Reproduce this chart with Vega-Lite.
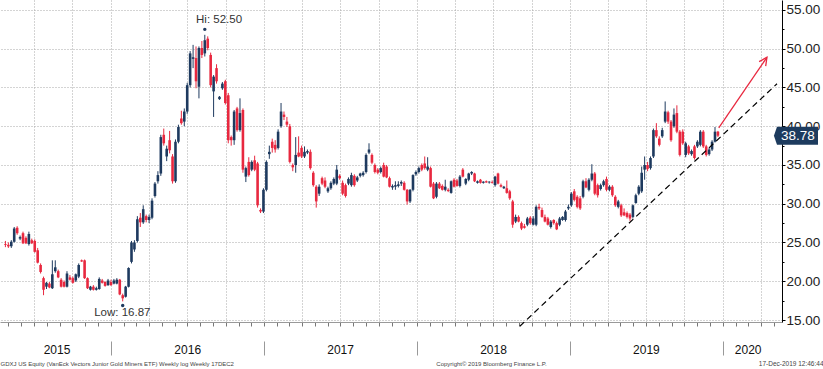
{
  "$schema": "https://vega.github.io/schema/vega-lite/v6.json",
  "autosize": {"type": "none"},
  "width": 782,
  "height": 322,
  "padding": {"left": 0, "top": 0, "right": 41, "bottom": 47},
  "background": "white",
  "config": {
    "view": {"stroke": null},
    "font": "Liberation Sans",
    "axis": {"labelFont": "Liberation Sans", "titleFont": "Liberation Sans"}
  },
  "datasets": {
    "candles": [
      {"date":"2015-04-24","open":24.8,"high":25.2,"low":24.4,"close":24.7,"dir":"dn"},
      {"date":"2015-05-01","open":24.7,"high":25.0,"low":24.3,"close":24.5,"dir":"dn"},
      {"date":"2015-05-08","open":24.5,"high":25.3,"low":24.3,"close":25.1,"dir":"up"},
      {"date":"2015-05-15","open":25.1,"high":27.0,"low":25.0,"close":26.8,"dir":"up"},
      {"date":"2015-05-22","open":26.9,"high":27.1,"low":26.0,"close":26.2,"dir":"dn"},
      {"date":"2015-05-29","open":25.5,"high":25.9,"low":25.3,"close":25.7,"dir":"up"},
      {"date":"2015-06-05","open":26.2,"high":26.4,"low":24.8,"close":24.9,"dir":"dn"},
      {"date":"2015-06-12","open":25.6,"high":25.8,"low":24.8,"close":24.9,"dir":"dn"},
      {"date":"2015-06-19","open":24.8,"high":26.4,"low":24.6,"close":26.1,"dir":"up"},
      {"date":"2015-06-26","open":25.3,"high":25.5,"low":24.8,"close":24.9,"dir":"dn"},
      {"date":"2015-07-03","open":25.2,"high":25.4,"low":23.7,"close":23.8,"dir":"dn"},
      {"date":"2015-07-10","open":24.0,"high":24.3,"low":22.3,"close":22.4,"dir":"dn"},
      {"date":"2015-07-17","open":22.1,"high":22.3,"low":21.0,"close":21.2,"dir":"dn"},
      {"date":"2015-07-24","open":20.4,"high":20.6,"low":18.2,"close":18.9,"dir":"dn"},
      {"date":"2015-07-31","open":19.3,"high":19.9,"low":19.0,"close":19.8,"dir":"up"},
      {"date":"2015-08-07","open":19.7,"high":19.9,"low":19.1,"close":19.2,"dir":"dn"},
      {"date":"2015-08-14","open":19.1,"high":22.7,"low":19.0,"close":20.9,"dir":"up"},
      {"date":"2015-08-21","open":21.3,"high":22.7,"low":21.1,"close":21.8,"dir":"up"},
      {"date":"2015-08-28","open":21.3,"high":21.5,"low":20.4,"close":20.5,"dir":"dn"},
      {"date":"2015-09-04","open":20.2,"high":20.4,"low":19.2,"close":19.3,"dir":"dn"},
      {"date":"2015-09-11","open":19.9,"high":20.1,"low":19.2,"close":19.3,"dir":"dn"},
      {"date":"2015-09-18","open":19.3,"high":21.3,"low":19.2,"close":21.0,"dir":"up"},
      {"date":"2015-09-25","open":20.5,"high":20.8,"low":20.1,"close":20.2,"dir":"dn"},
      {"date":"2015-10-02","open":20.4,"high":20.6,"low":19.7,"close":19.8,"dir":"dn"},
      {"date":"2015-10-09","open":20.1,"high":21.0,"low":19.9,"close":20.9,"dir":"up"},
      {"date":"2015-10-16","open":20.6,"high":22.3,"low":20.4,"close":22.1,"dir":"up"},
      {"date":"2015-10-23","open":22.7,"high":22.8,"low":22.5,"close":22.55,"dir":"dn"},
      {"date":"2015-10-30","open":22.7,"high":22.8,"low":20.3,"close":20.4,"dir":"dn"},
      {"date":"2015-11-06","open":20.4,"high":20.5,"low":19.0,"close":19.1,"dir":"dn"},
      {"date":"2015-11-13","open":18.9,"high":19.4,"low":18.8,"close":19.3,"dir":"up"},
      {"date":"2015-11-20","open":19.3,"high":19.5,"low":18.8,"close":18.9,"dir":"dn"},
      {"date":"2015-11-27","open":18.9,"high":19.3,"low":18.8,"close":19.1,"dir":"up"},
      {"date":"2015-12-04","open":19.0,"high":20.5,"low":18.9,"close":20.3,"dir":"up"},
      {"date":"2015-12-11","open":20.1,"high":20.3,"low":19.7,"close":19.8,"dir":"dn"},
      {"date":"2015-12-18","open":19.9,"high":20.0,"low":19.3,"close":19.4,"dir":"dn"},
      {"date":"2015-12-25","open":19.5,"high":20.3,"low":19.4,"close":20.1,"dir":"up"},
      {"date":"2016-01-01","open":19.9,"high":20.2,"low":19.4,"close":19.5,"dir":"dn"},
      {"date":"2016-01-08","open":19.7,"high":20.3,"low":19.6,"close":20.1,"dir":"up"},
      {"date":"2016-01-15","open":19.7,"high":20.4,"low":19.6,"close":20.2,"dir":"up"},
      {"date":"2016-01-22","open":20.2,"high":20.3,"low":18.2,"close":18.3,"dir":"dn"},
      {"date":"2016-01-29","open":18.2,"high":18.4,"low":17.4,"close":17.8,"dir":"dn"},
      {"date":"2016-02-05","open":18.0,"high":19.4,"low":17.9,"close":19.3,"dir":"up"},
      {"date":"2016-02-12","open":19.3,"high":21.8,"low":19.2,"close":21.7,"dir":"up"},
      {"date":"2016-02-19","open":22.5,"high":25.2,"low":22.3,"close":25.0,"dir":"up"},
      {"date":"2016-02-26","open":24.1,"high":25.3,"low":23.8,"close":25.0,"dir":"up"},
      {"date":"2016-03-04","open":25.2,"high":28.4,"low":25.0,"close":28.0,"dir":"up"},
      {"date":"2016-03-11","open":28.2,"high":28.8,"low":27.0,"close":27.6,"dir":"dn"},
      {"date":"2016-03-18","open":27.6,"high":29.8,"low":27.4,"close":29.3,"dir":"up"},
      {"date":"2016-03-25","open":28.4,"high":28.6,"low":27.6,"close":27.9,"dir":"dn"},
      {"date":"2016-04-01","open":27.9,"high":28.6,"low":27.5,"close":28.3,"dir":"up"},
      {"date":"2016-04-08","open":28.2,"high":30.7,"low":28.0,"close":30.4,"dir":"up"},
      {"date":"2016-04-15","open":31.0,"high":32.8,"low":30.8,"close":32.6,"dir":"up"},
      {"date":"2016-04-22","open":32.9,"high":34.2,"low":32.6,"close":33.7,"dir":"up"},
      {"date":"2016-04-29","open":33.9,"high":38.9,"low":33.6,"close":38.6,"dir":"up"},
      {"date":"2016-05-06","open":38.9,"high":39.7,"low":37.5,"close":37.8,"dir":"dn"},
      {"date":"2016-05-13","open":36.1,"high":37.5,"low":35.5,"close":37.1,"dir":"up"},
      {"date":"2016-05-20","open":38.2,"high":39.4,"low":36.5,"close":36.9,"dir":"dn"},
      {"date":"2016-05-27","open":36.1,"high":36.4,"low":32.6,"close":32.9,"dir":"dn"},
      {"date":"2016-06-03","open":32.9,"high":38.3,"low":32.7,"close":38.0,"dir":"up"},
      {"date":"2016-06-10","open":38.0,"high":40.2,"low":37.8,"close":39.9,"dir":"up"},
      {"date":"2016-06-17","open":41.0,"high":42.0,"low":40.2,"close":40.4,"dir":"dn"},
      {"date":"2016-06-24","open":40.6,"high":42.3,"low":40.0,"close":41.9,"dir":"up"},
      {"date":"2016-07-01","open":41.9,"high":45.6,"low":41.6,"close":45.3,"dir":"up"},
      {"date":"2016-07-08","open":45.3,"high":49.7,"low":45.0,"close":49.4,"dir":"up"},
      {"date":"2016-07-15","open":48.7,"high":50.5,"low":47.5,"close":48.9,"dir":"up"},
      {"date":"2016-07-22","open":48.8,"high":50.3,"low":44.9,"close":45.8,"dir":"dn"},
      {"date":"2016-07-29","open":45.1,"high":50.3,"low":43.6,"close":50.1,"dir":"up"},
      {"date":"2016-08-05","open":50.1,"high":51.0,"low":48.8,"close":49.2,"dir":"dn"},
      {"date":"2016-08-12","open":49.4,"high":51.8,"low":49.0,"close":51.1,"dir":"up"},
      {"date":"2016-08-19","open":51.3,"high":51.6,"low":49.8,"close":50.1,"dir":"dn"},
      {"date":"2016-08-26","open":49.2,"high":49.5,"low":45.0,"close":45.3,"dir":"dn"},
      {"date":"2016-09-02","open":44.5,"high":46.6,"low":41.2,"close":46.4,"dir":"up"},
      {"date":"2016-09-09","open":47.5,"high":48.0,"low":45.5,"close":45.8,"dir":"dn"},
      {"date":"2016-09-16","open":43.5,"high":43.9,"low":43.4,"close":43.8,"dir":"up"},
      {"date":"2016-09-23","open":44.9,"high":45.7,"low":44.7,"close":45.5,"dir":"up"},
      {"date":"2016-09-30","open":45.8,"high":46.0,"low":42.8,"close":43.0,"dir":"dn"},
      {"date":"2016-10-07","open":44.0,"high":44.3,"low":37.8,"close":38.2,"dir":"dn"},
      {"date":"2016-10-14","open":38.6,"high":38.8,"low":37.5,"close":38.2,"dir":"dn"},
      {"date":"2016-10-21","open":38.2,"high":42.1,"low":37.6,"close":41.9,"dir":"up"},
      {"date":"2016-10-28","open":42.3,"high":42.5,"low":39.3,"close":39.5,"dir":"dn"},
      {"date":"2016-11-04","open":39.5,"high":43.6,"low":39.3,"close":41.7,"dir":"up"},
      {"date":"2016-11-11","open":42.1,"high":42.3,"low":34.0,"close":34.4,"dir":"dn"},
      {"date":"2016-11-18","open":33.5,"high":34.8,"low":32.8,"close":34.6,"dir":"up"},
      {"date":"2016-11-25","open":35.4,"high":36.0,"low":33.5,"close":33.7,"dir":"dn"},
      {"date":"2016-12-02","open":34.4,"high":35.6,"low":34.2,"close":35.4,"dir":"up"},
      {"date":"2016-12-09","open":35.6,"high":36.2,"low":34.2,"close":34.4,"dir":"dn"},
      {"date":"2016-12-16","open":35.2,"high":35.4,"low":29.5,"close":29.8,"dir":"dn"},
      {"date":"2016-12-23","open":29.2,"high":29.4,"low":28.8,"close":29.0,"dir":"dn"},
      {"date":"2016-12-30","open":29.0,"high":32.0,"low":28.8,"close":31.8,"dir":"up"},
      {"date":"2017-01-06","open":31.8,"high":35.6,"low":31.6,"close":35.4,"dir":"up"},
      {"date":"2017-01-13","open":36.4,"high":37.5,"low":35.8,"close":36.7,"dir":"up"},
      {"date":"2017-01-20","open":38.0,"high":38.4,"low":36.6,"close":37.2,"dir":"dn"},
      {"date":"2017-01-27","open":37.6,"high":38.2,"low":36.6,"close":37.0,"dir":"dn"},
      {"date":"2017-02-03","open":37.2,"high":39.6,"low":37.0,"close":39.3,"dir":"up"},
      {"date":"2017-02-10","open":40.0,"high":43.0,"low":39.8,"close":41.9,"dir":"up"},
      {"date":"2017-02-17","open":41.5,"high":41.9,"low":40.8,"close":41.2,"dir":"dn"},
      {"date":"2017-02-24","open":40.6,"high":41.2,"low":39.9,"close":40.2,"dir":"dn"},
      {"date":"2017-03-03","open":40.0,"high":40.3,"low":35.2,"close":35.4,"dir":"dn"},
      {"date":"2017-03-10","open":35.0,"high":35.2,"low":34.2,"close":34.7,"dir":"dn"},
      {"date":"2017-03-17","open":35.0,"high":38.6,"low":34.0,"close":36.3,"dir":"up"},
      {"date":"2017-03-24","open":36.6,"high":38.7,"low":36.0,"close":36.1,"dir":"dn"},
      {"date":"2017-03-31","open":37.2,"high":37.5,"low":35.9,"close":36.1,"dir":"dn"},
      {"date":"2017-04-07","open":36.1,"high":37.4,"low":35.9,"close":36.7,"dir":"up"},
      {"date":"2017-04-14","open":36.6,"high":37.0,"low":36.4,"close":36.8,"dir":"up"},
      {"date":"2017-04-21","open":36.7,"high":37.0,"low":34.4,"close":34.6,"dir":"dn"},
      {"date":"2017-04-28","open":34.0,"high":34.2,"low":32.2,"close":32.4,"dir":"dn"},
      {"date":"2017-05-05","open":32.2,"high":32.4,"low":29.5,"close":30.3,"dir":"dn"},
      {"date":"2017-05-12","open":31.3,"high":32.5,"low":31.0,"close":32.2,"dir":"up"},
      {"date":"2017-05-19","open":33.3,"high":33.5,"low":32.4,"close":32.6,"dir":"dn"},
      {"date":"2017-05-26","open":33.0,"high":33.4,"low":32.0,"close":32.2,"dir":"dn"},
      {"date":"2017-06-02","open":31.6,"high":32.2,"low":31.4,"close":32.0,"dir":"up"},
      {"date":"2017-06-09","open":32.0,"high":32.9,"low":31.8,"close":32.7,"dir":"up"},
      {"date":"2017-06-16","open":32.6,"high":33.4,"low":32.4,"close":33.2,"dir":"up"},
      {"date":"2017-06-23","open":32.6,"high":35.0,"low":32.4,"close":34.4,"dir":"up"},
      {"date":"2017-06-30","open":33.6,"high":33.8,"low":33.1,"close":33.3,"dir":"dn"},
      {"date":"2017-07-07","open":32.7,"high":33.0,"low":31.1,"close":31.3,"dir":"dn"},
      {"date":"2017-07-14","open":32.4,"high":32.6,"low":30.8,"close":31.0,"dir":"dn"},
      {"date":"2017-07-21","open":32.6,"high":33.4,"low":32.4,"close":33.2,"dir":"up"},
      {"date":"2017-07-28","open":32.4,"high":34.0,"low":32.2,"close":33.7,"dir":"up"},
      {"date":"2017-08-04","open":33.6,"high":33.8,"low":32.2,"close":32.4,"dir":"dn"},
      {"date":"2017-08-11","open":33.0,"high":33.6,"low":32.8,"close":33.4,"dir":"up"},
      {"date":"2017-08-18","open":33.6,"high":34.0,"low":33.4,"close":33.9,"dir":"up"},
      {"date":"2017-08-25","open":33.7,"high":34.2,"low":33.5,"close":34.0,"dir":"up"},
      {"date":"2017-09-01","open":34.1,"high":36.5,"low":33.9,"close":36.3,"dir":"up"},
      {"date":"2017-09-08","open":36.6,"high":37.8,"low":36.4,"close":37.0,"dir":"up"},
      {"date":"2017-09-15","open":36.3,"high":36.5,"low":35.1,"close":35.3,"dir":"dn"},
      {"date":"2017-09-22","open":35.0,"high":35.2,"low":33.9,"close":34.1,"dir":"dn"},
      {"date":"2017-09-29","open":34.4,"high":34.6,"low":33.8,"close":34.0,"dir":"dn"},
      {"date":"2017-10-06","open":34.1,"high":34.8,"low":33.9,"close":34.6,"dir":"up"},
      {"date":"2017-10-13","open":35.0,"high":35.3,"low":33.4,"close":33.5,"dir":"dn"},
      {"date":"2017-10-20","open":34.8,"high":35.0,"low":33.3,"close":33.4,"dir":"dn"},
      {"date":"2017-10-27","open":33.3,"high":33.5,"low":32.1,"close":32.2,"dir":"dn"},
      {"date":"2017-11-03","open":32.1,"high":32.5,"low":31.8,"close":32.3,"dir":"up"},
      {"date":"2017-11-10","open":32.2,"high":32.9,"low":31.8,"close":32.4,"dir":"up"},
      {"date":"2017-11-17","open":32.3,"high":32.9,"low":32.1,"close":32.5,"dir":"up"},
      {"date":"2017-11-24","open":32.6,"high":33.0,"low":32.3,"close":32.8,"dir":"up"},
      {"date":"2017-12-01","open":32.7,"high":32.9,"low":31.7,"close":31.8,"dir":"dn"},
      {"date":"2017-12-08","open":31.8,"high":31.9,"low":29.9,"close":30.3,"dir":"dn"},
      {"date":"2017-12-15","open":30.3,"high":31.9,"low":30.1,"close":31.8,"dir":"up"},
      {"date":"2017-12-22","open":31.8,"high":33.8,"low":31.6,"close":33.7,"dir":"up"},
      {"date":"2017-12-29","open":33.8,"high":34.3,"low":33.6,"close":34.1,"dir":"up"},
      {"date":"2018-01-05","open":34.1,"high":34.8,"low":33.9,"close":34.6,"dir":"up"},
      {"date":"2018-01-12","open":35.0,"high":35.2,"low":34.2,"close":34.4,"dir":"dn"},
      {"date":"2018-01-19","open":35.2,"high":36.1,"low":34.4,"close":34.6,"dir":"dn"},
      {"date":"2018-01-26","open":34.4,"high":36.0,"low":34.2,"close":34.8,"dir":"up"},
      {"date":"2018-02-02","open":34.6,"high":34.8,"low":32.1,"close":32.2,"dir":"dn"},
      {"date":"2018-02-09","open":32.6,"high":32.8,"low":30.6,"close":30.7,"dir":"dn"},
      {"date":"2018-02-16","open":30.9,"high":32.8,"low":30.7,"close":32.6,"dir":"up"},
      {"date":"2018-02-23","open":32.6,"high":32.8,"low":31.9,"close":32.0,"dir":"dn"},
      {"date":"2018-03-02","open":32.3,"high":32.5,"low":31.7,"close":31.8,"dir":"dn"},
      {"date":"2018-03-09","open":31.8,"high":33.1,"low":31.6,"close":32.2,"dir":"up"},
      {"date":"2018-03-16","open":31.8,"high":32.0,"low":31.5,"close":31.65,"dir":"dn"},
      {"date":"2018-03-23","open":31.4,"high":33.0,"low":31.3,"close":32.9,"dir":"up"},
      {"date":"2018-03-30","open":33.1,"high":33.3,"low":32.1,"close":32.2,"dir":"dn"},
      {"date":"2018-04-06","open":33.0,"high":33.2,"low":32.2,"close":32.3,"dir":"dn"},
      {"date":"2018-04-13","open":32.3,"high":33.7,"low":32.1,"close":33.5,"dir":"up"},
      {"date":"2018-04-20","open":34.4,"high":34.6,"low":33.4,"close":33.5,"dir":"dn"},
      {"date":"2018-04-27","open":32.6,"high":33.3,"low":32.4,"close":33.2,"dir":"up"},
      {"date":"2018-05-04","open":33.1,"high":34.0,"low":32.9,"close":33.9,"dir":"up"},
      {"date":"2018-05-11","open":33.9,"high":34.2,"low":33.7,"close":34.1,"dir":"up"},
      {"date":"2018-05-18","open":33.9,"high":34.0,"low":32.8,"close":32.9,"dir":"dn"},
      {"date":"2018-05-25","open":32.7,"high":33.0,"low":32.6,"close":32.9,"dir":"up"},
      {"date":"2018-06-01","open":33.1,"high":33.2,"low":32.6,"close":32.7,"dir":"dn"},
      {"date":"2018-06-08","open":32.7,"high":32.9,"low":32.6,"close":32.85,"dir":"up"},
      {"date":"2018-06-15","open":32.9,"high":33.0,"low":32.7,"close":32.75,"dir":"dn"},
      {"date":"2018-06-22","open":32.75,"high":32.9,"low":32.6,"close":32.85,"dir":"up"},
      {"date":"2018-06-29","open":32.8,"high":33.0,"low":32.6,"close":32.7,"dir":"dn"},
      {"date":"2018-07-06","open":32.4,"high":33.6,"low":32.2,"close":33.5,"dir":"up"},
      {"date":"2018-07-13","open":33.9,"high":34.0,"low":32.5,"close":32.6,"dir":"dn"},
      {"date":"2018-07-20","open":32.4,"high":32.6,"low":32.1,"close":32.2,"dir":"dn"},
      {"date":"2018-07-27","open":32.0,"high":32.3,"low":31.9,"close":32.2,"dir":"up"},
      {"date":"2018-08-03","open":32.0,"high":33.0,"low":31.3,"close":31.4,"dir":"dn"},
      {"date":"2018-08-10","open":31.6,"high":31.8,"low":30.5,"close":30.7,"dir":"dn"},
      {"date":"2018-08-17","open":30.3,"high":30.5,"low":26.9,"close":27.3,"dir":"dn"},
      {"date":"2018-08-24","open":27.7,"high":28.6,"low":27.5,"close":28.3,"dir":"up"},
      {"date":"2018-08-31","open":28.3,"high":28.5,"low":27.6,"close":27.7,"dir":"dn"},
      {"date":"2018-09-07","open":27.5,"high":27.7,"low":26.6,"close":26.8,"dir":"dn"},
      {"date":"2018-09-14","open":27.1,"high":27.4,"low":26.8,"close":26.9,"dir":"dn"},
      {"date":"2018-09-21","open":27.3,"high":28.3,"low":27.1,"close":28.1,"dir":"up"},
      {"date":"2018-09-28","open":28.2,"high":28.4,"low":27.3,"close":27.5,"dir":"dn"},
      {"date":"2018-10-05","open":27.3,"high":28.4,"low":27.2,"close":28.1,"dir":"up"},
      {"date":"2018-10-12","open":27.3,"high":29.8,"low":27.1,"close":29.6,"dir":"up"},
      {"date":"2018-10-19","open":29.6,"high":30.0,"low":29.2,"close":29.4,"dir":"dn"},
      {"date":"2018-10-26","open":29.2,"high":29.5,"low":28.2,"close":28.3,"dir":"dn"},
      {"date":"2018-11-02","open":28.3,"high":28.6,"low":27.6,"close":27.7,"dir":"dn"},
      {"date":"2018-11-09","open":28.1,"high":28.3,"low":27.2,"close":27.3,"dir":"dn"},
      {"date":"2018-11-16","open":27.0,"high":27.9,"low":26.8,"close":27.7,"dir":"up"},
      {"date":"2018-11-23","open":27.9,"high":28.0,"low":27.3,"close":27.5,"dir":"dn"},
      {"date":"2018-11-30","open":27.5,"high":27.7,"low":26.6,"close":26.7,"dir":"dn"},
      {"date":"2018-12-07","open":27.3,"high":28.3,"low":27.1,"close":28.1,"dir":"up"},
      {"date":"2018-12-14","open":27.9,"high":28.4,"low":27.8,"close":28.3,"dir":"up"},
      {"date":"2018-12-21","open":27.9,"high":29.2,"low":27.7,"close":29.0,"dir":"up"},
      {"date":"2018-12-28","open":29.4,"high":29.9,"low":29.2,"close":29.6,"dir":"up"},
      {"date":"2019-01-04","open":29.8,"high":31.5,"low":29.6,"close":31.3,"dir":"up"},
      {"date":"2019-01-11","open":31.6,"high":31.9,"low":30.3,"close":30.5,"dir":"dn"},
      {"date":"2019-01-18","open":30.9,"high":31.1,"low":29.4,"close":29.6,"dir":"dn"},
      {"date":"2019-01-25","open":30.7,"high":31.0,"low":29.2,"close":29.4,"dir":"dn"},
      {"date":"2019-02-01","open":30.9,"high":33.1,"low":30.7,"close":32.9,"dir":"up"},
      {"date":"2019-02-08","open":32.9,"high":33.3,"low":32.0,"close":32.1,"dir":"dn"},
      {"date":"2019-02-15","open":31.8,"high":33.3,"low":31.6,"close":33.1,"dir":"up"},
      {"date":"2019-02-22","open":33.1,"high":35.1,"low":32.9,"close":33.9,"dir":"up"},
      {"date":"2019-03-01","open":33.9,"high":34.1,"low":31.1,"close":31.3,"dir":"dn"},
      {"date":"2019-03-08","open":32.4,"high":32.6,"low":30.8,"close":31.1,"dir":"dn"},
      {"date":"2019-03-15","open":31.9,"high":32.6,"low":31.7,"close":32.4,"dir":"up"},
      {"date":"2019-03-22","open":32.4,"high":33.1,"low":32.2,"close":32.9,"dir":"up"},
      {"date":"2019-03-29","open":33.2,"high":33.5,"low":31.6,"close":31.8,"dir":"dn"},
      {"date":"2019-04-05","open":31.8,"high":32.4,"low":31.6,"close":32.2,"dir":"up"},
      {"date":"2019-04-12","open":32.2,"high":32.4,"low":30.9,"close":31.1,"dir":"dn"},
      {"date":"2019-04-19","open":30.9,"high":31.1,"low":29.6,"close":29.8,"dir":"dn"},
      {"date":"2019-04-26","open":29.6,"high":30.5,"low":29.4,"close":30.3,"dir":"up"},
      {"date":"2019-05-03","open":29.8,"high":30.0,"low":28.3,"close":28.5,"dir":"dn"},
      {"date":"2019-05-10","open":28.9,"high":29.4,"low":28.4,"close":28.5,"dir":"dn"},
      {"date":"2019-05-17","open":28.8,"high":29.0,"low":28.1,"close":28.3,"dir":"dn"},
      {"date":"2019-05-24","open":28.6,"high":28.8,"low":27.8,"close":28.1,"dir":"dn"},
      {"date":"2019-05-31","open":28.3,"high":29.9,"low":28.1,"close":29.8,"dir":"up"},
      {"date":"2019-06-07","open":30.1,"high":31.3,"low":30.0,"close":31.1,"dir":"up"},
      {"date":"2019-06-14","open":31.3,"high":32.4,"low":31.1,"close":32.2,"dir":"up"},
      {"date":"2019-06-21","open":31.6,"high":34.8,"low":31.4,"close":34.0,"dir":"up"},
      {"date":"2019-06-28","open":34.4,"high":36.1,"low":33.1,"close":35.0,"dir":"up"},
      {"date":"2019-07-05","open":35.0,"high":35.4,"low":34.2,"close":34.5,"dir":"dn"},
      {"date":"2019-07-12","open":34.6,"high":36.1,"low":34.4,"close":35.9,"dir":"up"},
      {"date":"2019-07-19","open":36.1,"high":39.7,"low":35.9,"close":39.5,"dir":"up"},
      {"date":"2019-07-26","open":39.5,"high":40.4,"low":38.5,"close":38.7,"dir":"dn"},
      {"date":"2019-08-02","open":38.4,"high":38.7,"low":37.4,"close":37.6,"dir":"dn"},
      {"date":"2019-08-09","open":38.7,"high":39.8,"low":38.5,"close":39.5,"dir":"up"},
      {"date":"2019-08-16","open":40.6,"high":43.2,"low":40.4,"close":41.9,"dir":"up"},
      {"date":"2019-08-23","open":41.8,"high":42.0,"low":40.3,"close":40.6,"dir":"dn"},
      {"date":"2019-08-30","open":40.6,"high":40.8,"low":38.0,"close":38.2,"dir":"dn"},
      {"date":"2019-09-06","open":40.0,"high":42.3,"low":39.8,"close":41.5,"dir":"up"},
      {"date":"2019-09-13","open":41.7,"high":42.7,"low":39.1,"close":39.3,"dir":"dn"},
      {"date":"2019-09-20","open":39.3,"high":39.5,"low":36.1,"close":36.3,"dir":"dn"},
      {"date":"2019-09-27","open":39.3,"high":39.6,"low":37.6,"close":37.8,"dir":"dn"},
      {"date":"2019-10-04","open":36.3,"high":38.0,"low":36.0,"close":37.8,"dir":"up"},
      {"date":"2019-10-11","open":37.4,"high":37.6,"low":36.3,"close":36.5,"dir":"dn"},
      {"date":"2019-10-18","open":36.4,"high":37.0,"low":36.2,"close":36.8,"dir":"up"},
      {"date":"2019-10-25","open":37.4,"high":37.6,"low":35.7,"close":35.9,"dir":"dn"},
      {"date":"2019-11-01","open":37.4,"high":38.2,"low":37.2,"close":38.0,"dir":"up"},
      {"date":"2019-11-08","open":37.6,"high":39.5,"low":37.4,"close":39.3,"dir":"up"},
      {"date":"2019-11-15","open":39.3,"high":39.5,"low":37.2,"close":37.4,"dir":"dn"},
      {"date":"2019-11-22","open":37.4,"high":37.6,"low":36.1,"close":36.3,"dir":"dn"},
      {"date":"2019-11-29","open":36.4,"high":37.2,"low":36.2,"close":37.0,"dir":"up"},
      {"date":"2019-12-06","open":37.0,"high":38.2,"low":36.8,"close":38.0,"dir":"up"},
      {"date":"2019-12-13","open":38.0,"high":39.9,"low":37.9,"close":39.3,"dir":"up"},
      {"date":"2019-12-20","open":39.3,"high":39.4,"low":38.6,"close":38.78,"dir":"dn"}
    ]
  },
  "resolve": {"axis": {"x": "independent", "y": "independent"}},
  "layer": [
    {
      "data": {"name": "candles"},
      "mark": {"type": "rule", "strokeWidth": 1},
      "encoding": {
        "x": {"field": "date", "type": "temporal",
          "scale": {"type": "utc", "domain": [{"year": 2015, "month": 4, "date": 23, "utc": true}, {"year": 2020, "month": 5, "date": 9, "utc": true}]},
          "axis": {"orient": "bottom", "tickCount": {"interval": "month", "step": 3}, "grid": true, "gridColor": "#a8a8a8", "gridDash": [1, 2], "gridWidth": 1, "ticks": false, "labels": false, "domain": false, "title": null}},
        "y": {"field": "low", "type": "quantitative",
          "scale": {"domain": [14.742, 56.29], "nice": false, "zero": false},
          "axis": {"orient": "right", "values": [15, 20, 25, 30, 35, 40, 45, 50, 55], "format": ".2f",
            "grid": true, "gridColor": "#a8a8a8", "gridDash": [1, 2], "gridWidth": 1,
            "domain": true, "domainColor": "#000", "domainWidth": 1,
            "ticks": true, "tickSize": 3, "tickColor": "#000",
            "labelFontSize": 13.5, "labelColor": "#222", "labelPadding": 1, "labelOverlap": false,
            "title": "17-Dec-2019 12:46:44", "titleAngle": 0, "titleX": 41, "titleY": 363, "titleAlign": "right", "titleBaseline": "middle",
            "titleFontSize": 6.5, "titleFontWeight": "normal", "titleColor": "#444"}},
        "y2": {"field": "high"},
        "color": {"field": "dir", "type": "nominal", "scale": {"domain": ["up", "dn"], "range": ["#1e3a5f", "#e8283f"]}, "legend": null}
      }
    },
    {
      "data": {"name": "candles"},
      "mark": {"type": "bar", "width": 2.6},
      "encoding": {
        "x": {"field": "date", "type": "temporal",
          "axis": {"orient": "bottom", "tickCount": {"interval": "month", "step": 1}, "ticks": true, "tickSize": 4, "tickColor": "#777", "labels": false, "grid": false, "domain": true, "domainColor": "#999", "title": null}},
        "y": {"field": "open", "type": "quantitative",
          "axis": {"orient": "right", "values": [17.5, 22.5, 27.5, 32.5, 37.5, 42.5, 47.5, 52.5], "ticks": true, "tickSize": 2, "tickColor": "#000", "labels": false, "domain": false, "grid": false, "title": null}},
        "y2": {"field": "close"},
        "color": {"field": "dir", "type": "nominal",
          "legend": {"title": null, "orient": "top-left", "offset": 3, "values": ["up"], "labelExpr": "'GDXJ US'",
            "symbolType": "square", "symbolSize": 32, "labelFontSize": 6.5, "labelColor": "#222", "padding": 4,
            "strokeColor": "#999", "fillColor": "#ffffff", "cornerRadius": 3, "labelOffset": 2, "symbolStrokeWidth": 0}}
      }
    },
    {
      "data": {"values": [
        {"date": "2016-08-12", "price": 52.5},
        {"date": "2016-01-29", "price": 16.87}
      ]},
      "mark": {"type": "point", "filled": true, "size": 12, "color": "#1e3a5f", "opacity": 1},
      "encoding": {
        "x": {"field": "date", "type": "temporal",
          "axis": {"orient": "bottom", "tickCount": {"interval": "year", "step": 1}, "offset": 19, "tickSize": 14, "tickColor": "#999", "labels": false, "grid": false, "domain": false,
            "title": "Copyright© 2019 Bloomberg Finance L.P.", "titleX": 491, "titleY": 22, "titleAlign": "center", "titleBaseline": "middle",
            "titleFontSize": 6, "titleFontWeight": "normal", "titleColor": "#444"}},
        "y": {"field": "price", "type": "quantitative", "axis": null}
      }
    },
    {
      "data": {"values": [
        {"date": "2016-09-15", "price": 53.7, "label": "Hi: 52.50"},
        {"date": "2016-01-28", "price": 15.9, "label": "Low: 16.87"}
      ]},
      "mark": {"type": "text", "fontSize": 11.5, "color": "#333", "align": "center", "baseline": "middle"},
      "encoding": {
        "x": {"field": "date", "type": "temporal",
          "axis": {"orient": "bottom",
            "values": [
              {"year": 2015, "month": 8, "date": 24, "utc": true},
              {"year": 2016, "month": 7, "date": 1, "utc": true},
              {"year": 2017, "month": 7, "date": 1, "utc": true},
              {"year": 2018, "month": 7, "date": 1, "utc": true},
              {"year": 2019, "month": 7, "date": 1, "utc": true},
              {"year": 2020, "month": 2, "date": 29, "utc": true}
            ],
            "labelExpr": "utcFormat(datum.value, '%Y')", "ticks": false, "tickSize": 0, "domain": false, "grid": false,
            "labelPadding": 27, "labelBaseline": "middle", "labelFontSize": 12, "labelColor": "#111", "labelFlush": false, "labelOverlap": false, "labelBound": false,
            "title": "GDXJ US Equity (VanEck Vectors Junior Gold Miners ETF) Weekly log  Weekly 17DEC2", "titleX": 0, "titleY": 41, "titleAlign": "left", "titleBaseline": "middle",
            "titleFontSize": 6, "titleFontWeight": "normal", "titleColor": "#444"}},
        "y": {"field": "price", "type": "quantitative", "axis": null},
        "text": {"field": "label"}
      }
    },
    {
      "data": {"values": [
        {"date": "2018-09-03", "price": 14.2},
        {"date": "2020-05-09", "price": 45.49}
      ]},
      "mark": {"type": "line", "color": "#000", "strokeWidth": 1.2, "strokeDash": [6, 4]},
      "encoding": {
        "x": {"field": "date", "type": "temporal", "axis": null},
        "y": {"field": "price", "type": "quantitative", "axis": null}
      }
    },
    {
      "data": {"values": [
        {"date": "2019-12-22", "price": 39.8},
        {"date": "2020-04-15", "price": 48.9}
      ]},
      "mark": {"type": "line", "color": "#e8283f", "strokeWidth": 1.3},
      "encoding": {
        "x": {"field": "date", "type": "temporal", "axis": null},
        "y": {"field": "price", "type": "quantitative", "axis": null}
      }
    },
    {
      "data": {"values": [
        {"date": "2020-04-15", "price": 48.9}
      ]},
      "mark": {"type": "point", "shape": "M-0.5,1L0,0L0.5,1", "size": 256, "angle": 34.6, "filled": false, "stroke": "#e8283f", "strokeWidth": 1.3, "opacity": 1},
      "encoding": {
        "x": {"field": "date", "type": "temporal", "axis": null},
        "y": {"field": "price", "type": "quantitative", "axis": null}
      }
    },
    {
      "data": {"values": [
        {"date": "2020-05-09", "price": 38.78, "label": "38.78"}
      ]},
      "mark": {"type": "point", "shape": "M-0.15,0L0,-0.44L2,-0.44L2,0.44L0,0.44Z", "size": 1681, "filled": true, "color": "#1d3b5e", "opacity": 1},
      "encoding": {
        "x": {"field": "date", "type": "temporal", "axis": null},
        "y": {"field": "price", "type": "quantitative", "axis": null}
      }
    },
    {
      "data": {"values": [
        {"date": "2020-05-09", "price": 38.78, "label": "38.78"}
      ]},
      "mark": {"type": "text", "align": "left", "baseline": "middle", "dx": 4, "fontSize": 13.5, "color": "#ffffff"},
      "encoding": {
        "x": {"field": "date", "type": "temporal", "axis": null},
        "y": {"field": "price", "type": "quantitative", "axis": null},
        "text": {"field": "label"}
      }
    }
  ]
}
